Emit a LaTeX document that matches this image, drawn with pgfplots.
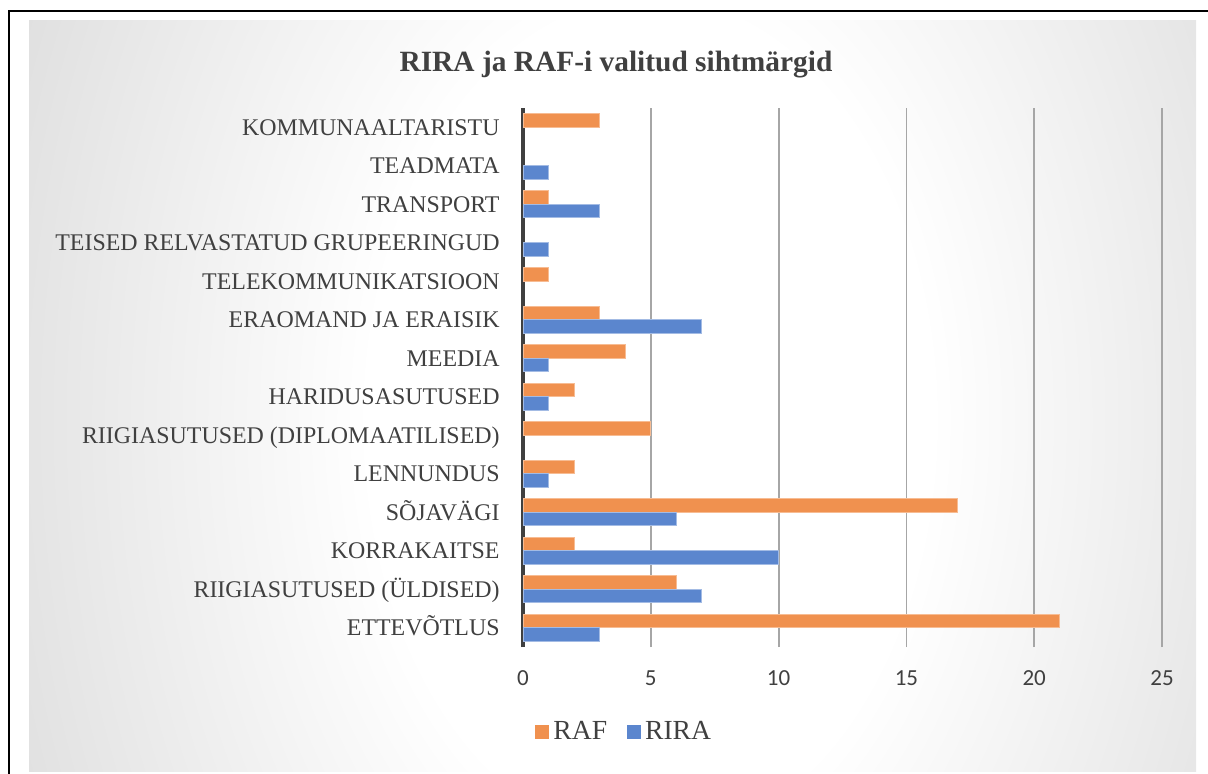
\documentclass[border=0pt]{standalone}
\usepackage{pgfplots}
\pgfplotsset{compat=1.18}
\usepackage{fontspec}
\setmainfont{Liberation Serif}
\newfontfamily\tickfont{Carlito}

\definecolor{rafc}{HTML}{F0914F}
\definecolor{rafl}{HTML}{F7BC93}
\definecolor{rirac}{HTML}{5B86CE}
\definecolor{riral}{HTML}{A3BBE4}
\definecolor{txt}{HTML}{404040}
\definecolor{gridc}{HTML}{A6A6A6}
\definecolor{bggray}{HTML}{B4B4B4}
\pgfdeclareradialshading{chartbg}{\pgfpoint{0bp}{0bp}}{color(0bp)=(white); color(9bp)=(white); color(40bp)=(bggray); color(50bp)=(bggray)}

\begin{document}
\begin{tikzpicture}
% frame and chart area background (1px = 0.5pt)
\begin{scope}[x=0.5pt,y=-0.5pt]
\useasboundingbox (0,0) rectangle (1208,774);
\begin{scope}
\clip (29,21) rectangle (1196,771);
\shade[shading=chartbg] (650,420) ellipse [x radius=780, y radius=1150];
\end{scope}
\draw[line width=1.4pt] (9,774) -- (9,11) -- (1208,11);
\node[font=\bfseries\fontsize{14.7}{16}\selectfont, text=txt, anchor=base] at (616,72) {RIRA ja RAF-i valitud sihtmärgid};
\end{scope}

\begin{axis}[
  at={(261.5pt,-323.5pt)}, anchor=south west,
  scale only axis, width=319.5pt, height=269.5pt,
  xmin=0, xmax=25, ymin=-0.5, ymax=13.5,
  axis y line*=left, axis x line*=bottom,
  y axis line style={-, line width=2pt, color=txt},
  x axis line style={draw=none},
  major tick length=0pt,
  xtick={0,5,...,25},
  xmajorgrids, major grid style={gridc, line width=0.9pt},
  ytick={0,...,13},
  yticklabels={ETTEVÕTLUS, RIIGIASUTUSED (ÜLDISED), KORRAKAITSE, SÕJAVÄGI, LENNUNDUS,
    RIIGIASUTUSED (DIPLOMAATILISED), HARIDUSASUTUSED, MEEDIA, ERAOMAND JA ERAISIK,
    TELEKOMMUNIKATSIOON, TEISED RELVASTATUD GRUPEERINGUD, TRANSPORT, TEADMATA, KOMMUNAALTARISTU},
  /pgf/number format/assume math mode=true,
  xticklabel style={font=\tickfont\fontsize{11.5}{13}\selectfont, text=txt, anchor=center, inner sep=0pt, yshift=-15.5pt},
  yticklabel style={font=\fontsize{11.95}{13}\selectfont, text=txt, anchor=base east, inner sep=0pt, xshift=-11.5pt, yshift=-4pt},
  legend columns=2,
  legend style={at={(axis description cs:0.16,-0.158)}, anchor=center, draw=none,
    fill=white, fill opacity=0.35, text opacity=1, text=txt,
    font=\fontsize{13.8}{15}\selectfont,
    /tikz/every even column/.append style={column sep=8pt},
    inner xsep=8pt, inner ysep=6pt},
]
\addplot[xbar, bar width=0.35, bar shift=0.18, fill=rafc, draw=rafl, line width=0.5pt,
  legend image code/.code={\fill[rafc, fill opacity=1] (0pt,-3.25pt) rectangle (6.5pt,3.25pt);}]
  coordinates {(21,0) (6,1) (2,2) (17,3) (2,4) (5,5) (2,6) (4,7) (3,8) (1,9) (1,11) (3,13)};
\addlegendentry{RAF}
\addplot[xbar, bar width=0.35, bar shift=-0.18, fill=rirac, draw=riral, line width=0.5pt,
  legend image code/.code={\fill[rirac, fill opacity=1] (0pt,-3.25pt) rectangle (6.5pt,3.25pt);}]
  coordinates {(3,0) (7,1) (10,2) (6,3) (1,4) (1,6) (1,7) (7,8) (1,10) (3,11) (1,12)};
\addlegendentry{RIRA}
\end{axis}
\end{tikzpicture}
\end{document}
